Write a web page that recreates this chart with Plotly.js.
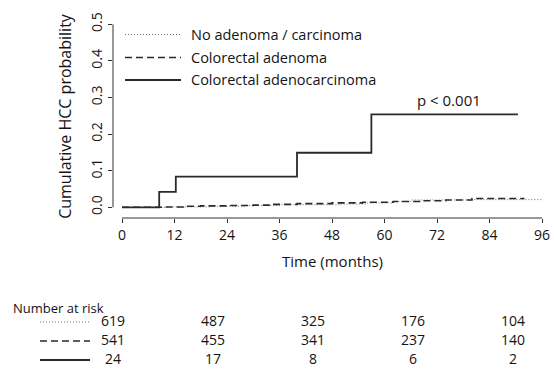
<!DOCTYPE html>
<html>
<head>
<meta charset="utf-8">
<script src="https://cdn.plot.ly/plotly-3.0.1.min.js"></script>
<style>html,body{margin:0;padding:0;background:#fff;}#chart{width:554px;height:387px;}</style>
</head>
<body>
<div id="chart"></div>
<script>
// ---- data ----
const seriesNames = ["No adenoma / carcinoma", "Colorectal adenoma", "Colorectal adenocarcinoma"];
const noAdenomaT = [0, 10, 20, 28, 36, 50, 56, 62, 66, 80, 96];
const noAdenomaP = [0, 0.001, 0.003, 0.005, 0.007, 0.009, 0.012, 0.016, 0.02, 0.021, 0.023];
const adenomaT = [0, 9, 14, 18, 24, 30, 34, 40, 48, 55, 62, 68, 74, 80, 92];
const adenomaP = [0, 0.001, 0.003, 0.004, 0.005, 0.006, 0.008, 0.01, 0.012, 0.014, 0.016, 0.018, 0.02, 0.024, 0.024];
const carcinomaT = [0, 8.5, 12.3, 40, 57, 90.5];
const carcinomaP = [0, 0.042, 0.084, 0.149, 0.254, 0.254];
const xTicks = [0, 12, 24, 36, 48, 60, 72, 84, 96];
const yTicks = [0, 0.1, 0.2, 0.3, 0.4, 0.5];
const yTickText = ["0.0", "0.1", "0.2", "0.3", "0.4", "0.5"];
const riskTimes = [0, 24, 48, 72, 96];
const riskNoAdenoma = [619, 487, 325, 176, 104];
const riskAdenoma = [541, 455, 341, 237, 140];
const riskCarcinoma = [24, 17, 8, 6, 2];
const pText = "p < 0.001";

// ---- styles ----
const W = 554, H = 387;
const FONT = "Open Sans, sans-serif";
const ink = "#141414";
const styles = [
  {color: "#707070", width: 1, dash: "1px,2px"},
  {color: "#2a2a2a", width: 1.6, dash: "7px,4px"},
  {color: "#2a2a2a", width: 1.8, dash: "solid"}
];
// pixel geometry
const plotL = 113, plotR = 552, plotT = 15, plotB = 218;
const x0px = 122, x96px = 542; const pxPerMonth = (x96px - x0px) / 96;
const y0px = 207.3, y05px = 24.3; const pxPerUnit = (y0px - y05px) / 0.5;
const xr = [(plotL - x0px) / pxPerMonth, (plotR - x0px) / pxPerMonth];
const yr = [(y0px - plotB) / pxPerUnit, (y0px - plotT) / pxPerUnit];

// table axis geometry
const tX0 = 113, tX96 = 513; const tPx = (tX96 - tX0) / 96;
const x2r = [(0 - tX0) / tPx, (W - tX0) / tPx];
const rowY0 = 322, rowStep = 19;
const y2r = [(H - rowY0) / rowStep, (0 - rowY0) / rowStep];

const allSeries = [[noAdenomaT, noAdenomaP], [adenomaT, adenomaP], [carcinomaT, carcinomaP]];
const traces = allSeries.map((s, i) => ({
  x: s[0], y: s[1], type: "scatter", mode: "lines",
  line: {shape: "hv", color: styles[i].color, width: styles[i].width, dash: styles[i].dash},
  xaxis: "x", yaxis: "y", hoverinfo: "skip", showlegend: false
}));

const risks = [riskNoAdenoma, riskAdenoma, riskCarcinoma];
risks.forEach((r, i) => {
  traces.push({
    x: riskTimes, y: riskTimes.map(() => i), text: r.map(String),
    type: "scatter", mode: "text", textposition: "middle center",
    textfont: {family: FONT, size: 14, color: ink},
    xaxis: "x2", yaxis: "y2", hoverinfo: "skip", showlegend: false
  });
});

const shapes = [
  {type: "line", xref: "x", yref: "paper", x0: 0, x1: 96, y0: 1 - plotB / H, y1: 1 - plotB / H, line: {color: "#333", width: 1}},
  {type: "line", xref: "paper", yref: "y", x0: plotL / W, x1: plotL / W, y0: 0, y1: 0.5, line: {color: "#333", width: 1}}
];
const annotations = [];
const legRows = [34.5, 57.5, 80];
seriesNames.forEach((n, i) => {
  shapes.push({type: "line", xref: "paper", yref: "paper", x0: 125 / W, x1: 181 / W,
    y0: 1 - legRows[i] / H, y1: 1 - legRows[i] / H,
    line: {color: styles[i].color, width: styles[i].width, dash: styles[i].dash}});
  annotations.push({xref: "paper", yref: "paper", x: 189 / W, y: 1 - legRows[i] / H,
    xanchor: "left", yanchor: "middle", text: n, showarrow: false,
    font: {family: FONT, size: 14.5, color: ink}});
  shapes.push({type: "line", xref: "x2", yref: "y2", x0: (40 - tX0) / tPx, x1: (90 - tX0) / tPx,
    y0: i, y1: i,
    line: {color: styles[i].color, width: styles[i].width, dash: styles[i].dash}});
});
annotations.push({xref: "x", yref: "y", x: 74.7, y: 0.293, text: pText, showarrow: false,
  xanchor: "center", yanchor: "middle", font: {family: FONT, size: 15, color: ink}});
annotations.push({xref: "paper", yref: "paper", x: 11 / W, y: 1 - 308 / H, text: "Number at risk",
  showarrow: false, xanchor: "left", yanchor: "middle", font: {family: FONT, size: 13, color: ink}});

const layout = {
  width: W, height: H,
  margin: {l: 0, r: 0, t: 0, b: 0},
  paper_bgcolor: "#fff", plot_bgcolor: "rgba(0,0,0,0)",
  showlegend: false,
  font: {family: FONT, color: ink},
  xaxis: {
    domain: [plotL / W, plotR / W], range: xr, anchor: "y",
    tickvals: xTicks, ticktext: xTicks.map(String),
    ticks: "outside", ticklen: 4, tickcolor: "#333", tickwidth: 1,
    showline: false, showgrid: false, zeroline: false,
    tickfont: {family: FONT, size: 14, color: ink},
    title: {text: "Time (months)", font: {family: FONT, size: 15, color: ink}, standoff: 13}
  },
  yaxis: {
    domain: [1 - plotB / H, 1 - plotT / H], range: yr, anchor: "x",
    tickvals: yTicks, ticktext: yTickText, tickangle: -90,
    ticks: "outside", ticklen: 4, tickcolor: "#333", tickwidth: 1,
    showline: false, showgrid: false, zeroline: false,
    tickfont: {family: FONT, size: 14, color: ink},
    title: {text: "Cumulative HCC probability", font: {family: FONT, size: 16, color: ink}, standoff: 11}
  },
  xaxis2: {domain: [0, 1], range: x2r, anchor: "y2", visible: false, fixedrange: true},
  yaxis2: {domain: [0, 1], range: y2r, anchor: "x2", visible: false, fixedrange: true},
  shapes: shapes,
  annotations: annotations
};

Plotly.newPlot("chart", traces, layout, {staticPlot: true, displayModeBar: false});
</script>
</body>
</html>
